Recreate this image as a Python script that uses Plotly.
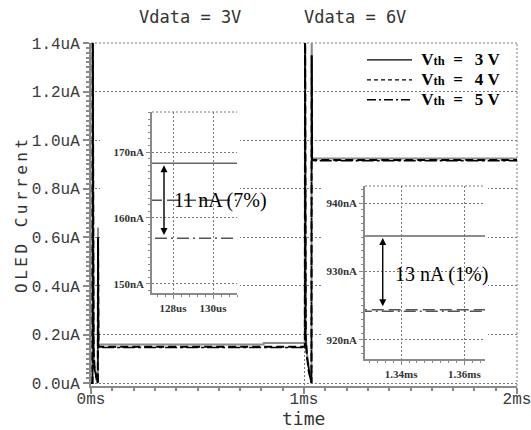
import plotly.graph_objects as go

# ---------------- data ----------------
vth_labels = ["3V", "4V", "5V"]

# main transient (time in ms, current in uA)
t_main = [0.000, 0.007, 0.008, 0.009, 0.012, 0.016, 0.022, 0.028, 0.032, 0.033, 0.035,
          0.810, 0.811, 1.003, 1.004, 1.005, 1.008, 1.014, 1.022, 1.030, 1.035, 1.036, 1.038, 2.000]
i_vth3 = [0.0, 0.0, 1.6, 0.30, 0.14, 0.07, 0.03, 0.01, 0.0, 0.64, 0.159,
          0.159, 0.165, 0.165, 0.165, 1.6, 0.20, 0.12, 0.06, 0.02, 0.0, 1.6, 0.925, 0.925]
i_vth4 = [0.0, 0.0, 1.6, 0.30, 0.14, 0.07, 0.03, 0.01, 0.0, 0.60, 0.150,
          0.150, 0.150, 0.150, 0.150, 1.6, 0.19, 0.11, 0.05, 0.02, 0.0, 1.35, 0.918, 0.918]
i_vth5 = [0.0, 0.0, 1.6, 0.29, 0.13, 0.06, 0.03, 0.01, 0.0, 0.58, 0.147,
          0.147, 0.147, 0.147, 0.147, 1.6, 0.18, 0.10, 0.05, 0.02, 0.0, 1.35, 0.915, 0.915]

# inset 1 (Vdata = 3V), time in us, current in nA
t_ins1 = [126.0, 132.0]
ins1_vth3 = [168.3, 168.3]
ins1_vth4 = [162.7, 162.7]
ins1_vth5 = [156.9, 156.9]

# inset 2 (Vdata = 6V), time in ms, current in nA
t_ins2 = [1.320, 1.370]
ins2_vth3 = [935.2, 935.2]
ins2_vth4 = [924.4, 924.4]
ins2_vth5 = [924.2, 924.2]

# ticks
main_xticks = [0, 1, 2]
main_xticktext = ["0ms", "1ms", "2ms"]
main_yticks = [0.0, 0.2, 0.4, 0.6, 0.8, 1.0, 1.2, 1.4]
main_yticktext = ["0.0uA", "0.2uA", "0.4uA", "0.6uA", "0.8uA", "1.0uA", "1.2uA", "1.4uA"]
ins1_xticks = [128, 130]
ins1_xticktext = ["128us", "130us"]
ins1_yticks = [150, 160, 170]
ins1_yticktext = ["150nA", "160nA", "170nA"]
ins2_xticks = [1.34, 1.36]
ins2_xticktext = ["1.34ms", "1.36ms"]
ins2_yticks = [920, 930, 940]
ins2_yticktext = ["920nA", "930nA", "940nA"]

panel_titles = ["Vdata = 3V", "Vdata = 6V"]
delta1_text = "11 nA (7%)"
delta2_text = "13 nA (1%)"

# ---------------- styles ----------------
MONO = "DejaVu Sans Mono"
TMONO = "Liberation Mono"
SERIF = "Liberation Serif"
GRID = "#7a7a7a"
AX = "#8a8a8a"

main_styles = [dict(color="#8c8c8c", width=2),
               dict(color="black", width=2, dash="8px,4px"),
               dict(color="black", width=1.5, dash="12px,3px,3px,3px")]
inset_styles = [dict(color="#666666", width=1.5),
                dict(color="#555555", width=1.5, dash="12px,5px"),
                dict(color="#555555", width=1.5, dash="12px,4px,2px,4px")]
legend_styles = [dict(color="black", width=1.3),
                 dict(color="black", width=1.3, dash="4px,3px"),
                 dict(color="black", width=1.3, dash="9px,3px,2px,3px")]

fig = go.Figure()

for vals, st in zip([i_vth3, i_vth4, i_vth5], main_styles):
    fig.add_trace(go.Scatter(x=t_main, y=vals, mode="lines", line=st,
                             showlegend=False, xaxis="x", yaxis="y"))

for vals, st in zip([ins1_vth3, ins1_vth4, ins1_vth5], inset_styles):
    fig.add_trace(go.Scatter(x=t_ins1, y=vals, mode="lines", line=st,
                             showlegend=False, xaxis="x4", yaxis="y4"))

for vals, st in zip([ins2_vth3, ins2_vth4, ins2_vth5], inset_styles):
    fig.add_trace(go.Scatter(x=t_ins2, y=vals, mode="lines", line=st,
                             showlegend=False, xaxis="x5", yaxis="y5"))

NB = "\u00a0"
for lab, st in zip(vth_labels, legend_styles):
    name = ("<span style='font-size:17px'>" + NB + "V<span style='font-size:12.5px'>th</span>"
            + NB * 2 + "=" + NB * 2 + "\u2009" + lab[0] + NB + lab[1] + "</span>")
    fig.add_trace(go.Scatter(x=[None], y=[None], mode="lines", line=st,
                             name=name, showlegend=True, xaxis="x", yaxis="y"))

# geometry (paper fractions)
W, H = 531, 430
ML, MR, MT, MB = 91, 14, 43, 44
PW, PH = W - ML - MR, H - MT - MB


def px(x):
    return (x - ML) / PW


def py(y):
    return (H - MB - y) / PH


def main_axis_common():
    return dict(showline=True, linecolor=AX, linewidth=2, ticks="outside",
                tickcolor=AX, ticklen=6, tickwidth=1.5, showgrid=True,
                gridcolor=GRID, griddash="2px,2px", gridwidth=1, zeroline=False,
                automargin=False, ticklabeloverflow="allow",
                tickfont=dict(family=TMONO, size=16, color="#3a3a3a"))


def inset_axis_common():
    return dict(showline=True, linecolor=AX, linewidth=1.5, ticks="outside",
                tickcolor=AX, ticklen=4, tickwidth=1, showgrid=True,
                gridcolor=GRID, griddash="2px,2px", gridwidth=1, zeroline=False,
                automargin=False, ticklabeloverflow="allow",
                tickfont=dict(family=SERIF, size=11, color="#333", weight="bold"))


def blank_axis(domain, anchor):
    return dict(domain=domain, anchor=anchor, range=[0, 1], showgrid=False,
                showline=False, zeroline=False, showticklabels=False, ticks="",
                automargin=False)


layout = dict(
    width=W, height=H,
    margin=dict(l=ML, r=MR, t=MT, b=MB, autoexpand=False),
    plot_bgcolor="white", paper_bgcolor="white",
    xaxis=dict(domain=[0, 1], anchor="y", range=[0, 2], tickmode="array",
               tickvals=main_xticks, ticktext=main_xticktext,
               ticklabelstandoff=-9,
               minor=dict(tickmode="linear", tick0=0, dtick=0.1, ticks="outside",
                          ticklen=3, tickcolor=AX, showgrid=False),
               **main_axis_common()),
    yaxis=dict(domain=[0, 1], anchor="x", range=[-0.012, 1.4], tickmode="array",
               tickvals=main_yticks, ticktext=main_yticktext,
               minor=dict(tickmode="linear", tick0=0, dtick=0.02, ticks="outside",
                          ticklen=3, tickcolor=AX, showgrid=False),
               **main_axis_common()),
    # white backing boxes for the insets (drawn between main plot and insets)
    xaxis2=blank_axis([px(100), px(240)], "y2"),
    yaxis2=blank_axis([py(312), py(108)], "x2"),
    xaxis3=blank_axis([px(322), px(488)], "y3"),
    yaxis3=blank_axis([py(378), py(184)], "x3"),
    # inset 1
    xaxis4=dict(domain=[px(152), px(237)], anchor="y4", range=[126.95, 131.2],
                tickmode="array", tickvals=ins1_xticks, ticktext=ins1_xticktext,
                minor=dict(tickmode="linear", tick0=0, dtick=0.4, ticks="outside",
                           ticklen=2.5, tickcolor=AX, showgrid=False),
                **inset_axis_common()),
    yaxis4=dict(domain=[py(293), py(112)], anchor="x4", range=[148.6, 176.1],
                tickmode="array", tickvals=ins1_yticks, ticktext=ins1_yticktext,
                minor=dict(tickmode="linear", tick0=0, dtick=1, ticks="outside",
                           ticklen=2.5, tickcolor=AX, showgrid=False),
                **inset_axis_common()),
    # inset 2
    xaxis5=dict(domain=[px(365), px(485)], anchor="y5", range=[1.3286, 1.3665],
                tickmode="array", tickvals=ins2_xticks, ticktext=ins2_xticktext,
                minor=dict(tickmode="linear", tick0=0, dtick=0.0025, ticks="outside",
                           ticklen=2.5, tickcolor=AX, showgrid=False),
                **inset_axis_common()),
    yaxis5=dict(domain=[py(359), py(186)], anchor="x5", range=[917.2, 942.5],
                tickmode="array", tickvals=ins2_yticks, ticktext=ins2_yticktext,
                minor=dict(tickmode="linear", tick0=0, dtick=1, ticks="outside",
                           ticklen=2.5, tickcolor=AX, showgrid=False),
                **inset_axis_common()),
    showlegend=True,
    legend=dict(x=px(362), y=py(45), xanchor="left", yanchor="top",
                bgcolor="rgba(0,0,0,0)", borderwidth=0, itemwidth=45,
                font=dict(family=SERIF, size=13, color="black", weight="bold"),
                tracegroupgap=0),
)
fig.update_layout(**layout)

shapes = [
    # white backing boxes
    dict(type="rect", xref="x2", yref="y2", x0=0, x1=1, y0=0, y1=1,
         fillcolor="white", line=dict(width=0), layer="below"),
    dict(type="rect", xref="x3", yref="y3", x0=0, x1=1, y0=0, y1=1,
         fillcolor="white", line=dict(width=0), layer="below"),
    # main plot dotted top/right border
    dict(type="line", xref="paper", yref="paper", x0=0, x1=1, y0=1, y1=1,
         line=dict(color=GRID, width=1, dash="2px,2px"), layer="below"),
    dict(type="line", xref="paper", yref="paper", x0=1, x1=1, y0=0, y1=1,
         line=dict(color=GRID, width=1, dash="2px,2px"), layer="below"),
    # inset dotted top borders
    dict(type="line", xref="x4 domain", yref="y4 domain", x0=0, x1=1, y0=1, y1=1,
         line=dict(color=GRID, width=1, dash="2px,2px"), layer="above"),
    dict(type="line", xref="x5 domain", yref="y5 domain", x0=0, x1=1, y0=1, y1=1,
         line=dict(color=GRID, width=1, dash="2px,2px"), layer="above"),
]
fig.update_layout(shapes=shapes)

ann = [
    dict(text=panel_titles[0], xref="paper", yref="paper", x=px(190), y=py(17),
         xanchor="center", yanchor="middle",
         showarrow=False, font=dict(family=MONO, size=17, color="#333")),
    dict(text=panel_titles[1], xref="paper", yref="paper", x=px(355), y=py(17),
         xanchor="center", yanchor="middle",
         showarrow=False, font=dict(family=MONO, size=17, color="#333")),
    dict(text="<span style='letter-spacing:3.5px'>OLED Current</span>",
         xref="paper", yref="paper", x=px(22), y=py(214), textangle=-90,
         xanchor="center", yanchor="middle",
         showarrow=False, font=dict(family=MONO, size=16, color="#333")),
    dict(text="time", xref="paper", yref="paper", x=px(303), y=py(419),
         xanchor="center", yanchor="middle",
         showarrow=False, font=dict(family=MONO, size=18, color="#333")),
    # inset 1 double arrow + label
    dict(text="", xref="x4", yref="y4", axref="x4", ayref="y4",
         x=127.55, y=ins1_vth3[0] - 0.3, ax=127.55, ay=ins1_vth5[0] + 0.3,
         showarrow=True, arrowhead=2, arrowside="end+start", arrowsize=1,
         arrowwidth=1.4, arrowcolor="black"),
    dict(text=delta1_text, xref="x4", yref="y4", x=127.95, y=ins1_vth4[0],
         xanchor="left", yanchor="middle", showarrow=False,
         font=dict(family=SERIF, size=20, color="black")),
    # inset 2 double arrow + label
    dict(text="", xref="x5", yref="y5", axref="x5", ayref="y5",
         x=1.3342, y=ins2_vth3[0] - 0.3, ax=1.3342, ay=ins2_vth4[0] + 0.3,
         showarrow=True, arrowhead=2, arrowside="end+start", arrowsize=1,
         arrowwidth=1.4, arrowcolor="black"),
    dict(text=delta2_text, xref="x5", yref="y5", x=1.3374, y=929.5,
         xanchor="left", yanchor="middle", showarrow=False,
         font=dict(family=SERIF, size=20, color="black")),
]
fig.update_layout(annotations=ann)

fig.write_html("out.html",
               config={"displayModeBar": False},
               post_script="document.body.style.margin='0';"
                           "document.body.style.overflow='hidden';")
